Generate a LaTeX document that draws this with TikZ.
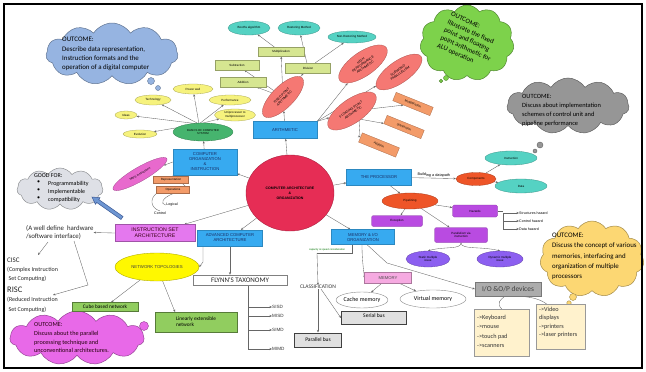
\documentclass[tikz,border=0pt]{standalone}
\usepackage{fontspec}
\setmainfont{Liberation Sans}
\newfontfamily\calfont{Carlito}
\usetikzlibrary{shapes.geometric,shapes.symbols,arrows.meta,calc}
\pgfdeclarelayer{edges}
\pgfdeclarelayer{bg}
\pgfsetlayers{bg,edges,main}
\definecolor{boxblue}{RGB}{55,170,240}
\definecolor{navy}{RGB}{25,45,100}
\definecolor{cred}{RGB}{230,45,85}
\definecolor{salmon}{RGB}{245,120,115}
\definecolor{orng}{RGB}{243,155,105}
\definecolor{lgreen}{RGB}{214,230,145}
\definecolor{mteal}{RGB}{85,210,195}
\definecolor{yel}{RGB}{246,242,125}
\definecolor{bgreen}{RGB}{70,180,110}
\definecolor{pinkm}{RGB}{232,105,205}
\definecolor{purp}{RGB}{185,75,225}
\definecolor{viol}{RGB}{140,95,240}
\definecolor{redo}{RGB}{238,85,40}
\definecolor{mpink}{RGB}{246,170,225}
\definecolor{isapink}{RGB}{228,120,238}
\definecolor{nyel}{RGB}{255,248,0}
\definecolor{ngreen}{RGB}{145,205,95}
\definecolor{cream}{RGB}{255,242,205}
\definecolor{iogray}{RGB}{172,172,172}
\definecolor{cblue}{RGB}{150,180,225}
\definecolor{cgreen}{RGB}{125,210,75}
\definecolor{cgray}{RGB}{150,150,150}
\definecolor{corange}{RGB}{252,215,115}
\definecolor{cpink}{RGB}{232,105,232}
\definecolor{cgood}{RGB}{222,224,230}
\definecolor{arrblue}{RGB}{110,150,210}
\definecolor{arrdark}{RGB}{60,90,150}
\tikzset{
  conn/.style={draw=black!60, line width=0.35pt, -{Stealth[length=2.5pt,width=2pt]}},
  plain/.style={draw=black!60, line width=0.35pt},
  tiny/.style={font=\fontsize{3}{3.6}\selectfont},
  bluebox/.style={rectangle, fill=boxblue, draw=boxblue!80!black, line width=0.3pt, text=navy,
     font=\fontsize{4.2}{5}\selectfont, align=center, inner sep=0pt},
  yell/.style={ellipse, fill=yel, draw=yel!70!black, line width=0.3pt, inner sep=0pt, tiny, align=center},
  grbox/.style={rectangle, fill=lgreen, draw=lgreen!70!black, line width=0.3pt, inner sep=0pt, tiny},
  tealell/.style={ellipse, fill=mteal, draw=mteal!70!black, line width=0.3pt, inner sep=0pt, tiny},
  salell/.style={ellipse, fill=salmon, draw=salmon!70!black, line width=0.3pt, inner sep=0pt,
     font=\fontsize{3.3}{3.9}\selectfont, align=center},
  orbox/.style={rectangle, fill=orng, draw=orng!70!black, line width=0.3pt, inner sep=0pt, tiny},
  redell/.style={ellipse, fill=redo, draw=redo!70!black, line width=0.3pt, inner sep=0pt, tiny},
  purbox/.style={rectangle, rounded corners=1.5pt, fill=purp, draw=purp!70!black, line width=0.3pt,
     inner sep=0pt, tiny, align=center},
  violell/.style={ellipse, fill=viol, draw=viol!70!black, line width=0.3pt, inner sep=0pt, tiny, align=center},
  whell/.style={ellipse, fill=white, draw=black!45, line width=0.4pt, inner sep=0pt,
     font=\calfont\fontsize{6}{7}\selectfont},
  busbox/.style={rectangle, fill=black!12, draw=black!75, line width=1pt, inner sep=0pt,
     font=\calfont\fontsize{5.5}{6}\selectfont},
  ngbox/.style={rectangle, fill=ngreen, draw=ngreen!60!black, line width=0.4pt, inner sep=0pt,
     font=\calfont\fontsize{5.3}{6}\selectfont},
  creambox/.style={rectangle, fill=cream, draw=black!40, line width=0.4pt, inner sep=0pt},
  cloudy/.style={cloud, cloud puffs=11, cloud puff arc=115, draw=#1!65!black, fill=#1, line width=0.5pt, inner sep=0pt},
  otext/.style={align=left, inner sep=0pt, anchor=north west},
  bubble/.style={circle, draw=#1!65!black, fill=#1, line width=0.4pt, inner sep=0pt}
}
\begin{document}
\begin{tikzpicture}[x=1pt,y=-1pt]
\useasboundingbox (0,0) rectangle (646,372);
\begin{pgfonlayer}{bg}
\fill[white] (0,0) rectangle (646,372);
\end{pgfonlayer}

% ---------- outcome clouds ----------
\node[cloudy=cblue, minimum width=132pt, minimum height=62pt] (c1) at (112,54) {};
\node[bubble=cblue, minimum size=7pt] (c1a) at (151,81) {};
\node[bubble=cblue, minimum size=5pt] (c1b) at (158,88) {};
\node[otext, font=\calfont\fontsize{6.9}{9.4}\selectfont] (c1t) at (62,37)
  {OUTCOME:\\Describe data representation,\\Instruction formats and the\\operation of a digital computer};

\node[cloudy=cgreen, minimum width=94pt, minimum height=76pt] (c2) at (467,43) {};
\node[bubble=cgreen, minimum size=5pt] (c2a) at (446,78) {};
\node[bubble=cgreen, minimum size=3.5pt] (c2b) at (441,81) {};
\node[align=left, inner sep=0pt, rotate=-24, font=\calfont\fontsize{6.8}{8.6}\selectfont] (c2t) at (469,41)
  {OUTCOME:\\Illustrate the fixed\\point and floating\\point arithmetic for\\ALU operation};

\node[cloudy=cgray, minimum width=122pt, minimum height=56pt] (c3) at (568,106) {};
\node[bubble=cgray, minimum size=6pt] (c3a) at (540,145) {};
\node[bubble=cgray, minimum size=4pt] (c3b) at (535,151) {};
\node[otext, font=\calfont\fontsize{6.4}{9}\selectfont] (c3t) at (522,94)
  {OUTCOME:\\Discuss about implementation\\schemes of control unit and\\pipeline performance};

\node[cloudy=corange, minimum width=104pt, minimum height=76pt] (c4) at (592,259) {};
\node[bubble=corange, minimum size=7pt] (c4a) at (573,297) {};
\node[bubble=corange, minimum size=4.5pt] (c4b) at (569,303) {};
\node[otext, font=\calfont\fontsize{6.9}{10.2}\selectfont] (c4t) at (552,233)
  {OUTCOME:\\Discuss the concept of various\\memories, interfacing and\\organization of multiple\\processors};

\node[cloudy=cpink, minimum width=134pt, minimum height=54pt] (c5) at (77,338) {};
\node[bubble=cpink, minimum size=9pt] (c5a) at (144,326) {};
\node[otext, text=black!80!purple, font=\calfont\fontsize{6.2}{8.9}\selectfont] (c5t) at (34,322)
  {OUTCOME:\\Discuss about the parallel\\processing technique and\\unconventional architectures.};

\node[cloudy=cgood, minimum width=86pt, minimum height=42pt] (good) at (60,189) {};
\node[otext, font=\calfont\fontsize{6}{7.6}\selectfont] (goodt) at (34,173) {GOOD FOR:};
\node[otext, font=\calfont\fontsize{6}{7.9}\selectfont] (goodb) at (37,181) {\textbullet\\\textbullet\\\textbullet};
\node[otext, font=\calfont\fontsize{6}{7.9}\selectfont] (goodi) at (48,181) {Programmability\\Implementable\\compatibility};

% ---------- centre ----------
\node[ellipse, fill=cred, draw=cred!75!black, line width=0.4pt, minimum width=88pt, minimum height=76pt,
  inner sep=0pt, align=center, font=\bfseries\fontsize{3.5}{5}\selectfont] (cao) at (290,193)
  {COMPUTER ARCHITECTURE\\\&\\ORGANIZATION};

% ---------- main branches ----------
\node[bluebox, minimum width=64pt, minimum height=17pt] (arith) at (285,130) {ARITHMETIC};
\node[bluebox, minimum width=64pt, minimum height=26pt] (corg) at (205,162) {COMPUTER\\ORGANIZATION\\\&\\INSTRUCTION};
\node[bluebox, minimum width=65pt, minimum height=16pt] (proc) at (379,177) {THE PROCESSOR};
\node[bluebox, minimum width=63pt, minimum height=15pt] (memio) at (363,237) {MEMORY \& I/O\\ORGANIZATION};
\node[bluebox, minimum width=65pt, minimum height=16pt] (adv) at (230,238) {ADVANCED COMPUTER\\ARCHITECTURE};
\node[rectangle, fill=isapink, draw=isapink!70!black, line width=0.4pt, minimum width=80pt, minimum height=17pt,
  inner sep=0pt, align=center, text=black!70!purple, font=\fontsize{5.2}{6}\selectfont] (isa) at (155,233)
  {INSTRUCTION SET\\ARCHITECTURE};

% ---------- basics ----------
\node[ellipse, fill=bgreen, draw=bgreen!70!black, line width=0.3pt, minimum width=60pt, minimum height=18pt,
  inner sep=0pt, align=center, font=\fontsize{2.8}{3.3}\selectfont] (basics) at (203,132) {BASICS OF COMPUTER\\SYSTEM};
\node[yell, minimum width=40pt, minimum height=10pt] (pw) at (193,89) {Power wall};
\node[yell, minimum width=36pt, minimum height=10pt] (tech) at (153,100) {Technology};
\node[yell, minimum width=42pt, minimum height=10pt] (perf) at (230,100) {Performance};
\node[yell, minimum width=41pt, minimum height=12pt] (uni) at (235,115) {Uniprocessor to\\multiprocessor};
\node[yell, minimum width=22pt, minimum height=8pt] (ideas) at (126,115) {Ideas};
\node[yell, minimum width=34pt, minimum height=8pt] (evol) at (140,134) {Evolution};
\coordinate (bsrc) at (199,124);

% ---------- computer organisation children ----------
\node[ellipse, rotate=30, fill=pinkm, draw=pinkm!70!black, line width=0.3pt, minimum width=62pt, minimum height=14pt,
  inner sep=0pt, font=\fontsize{3}{3.6}\selectfont] (mips) at (140,174) {MIPS instructions};
\node[orbox, minimum width=35pt, minimum height=7pt] (repr) at (171,180) {Representation};
\node[orbox, minimum width=33pt, minimum height=7pt] (oper) at (173,190) {Operations};
\node[font=\fontsize{3.6}{4}\selectfont, inner sep=0.5pt] (logic) at (172,205) {Logical};
\node[font=\fontsize{3.6}{4}\selectfont, inner sep=0.5pt] (ctrl) at (160,213) {Control};

% ---------- arithmetic ----------
\node[salell, rotate=45, minimum width=54pt, minimum height=22pt] (fixed) at (283,97) {FIXED POINT\\ARITHMETIC};
\node[grbox, minimum width=46pt, minimum height=10pt] (add1) at (243,82) {Addition};
\node[grbox, minimum width=44pt, minimum height=10pt] (sub1) at (237,65) {Subtraction};
\node[grbox, minimum width=46pt, minimum height=9pt] (mul1) at (281,52) {Multiplication};
\node[grbox, minimum width=45pt, minimum height=10pt] (div1) at (308,68) {Division};
\node[tealell, minimum width=42pt, minimum height=14pt] (booth) at (249,28) {Booths algorithm};
\node[tealell, minimum width=42pt, minimum height=14pt] (rest) at (299,28) {Restoring Method};
\node[tealell, minimum width=48pt, minimum height=12pt] (nonrest) at (352,37) {Non-Restoring Method};
\node[salell, rotate=35, minimum width=57pt, minimum height=24pt] (hpa) at (363,64) {HIGH\\PERFORMANCE\\ARITHMETIC};
\node[salell, rotate=35, minimum width=54pt, minimum height=22pt] (subw) at (399,72) {SUBWORD\\PARALLELISM};
\node[salell, rotate=35, minimum width=57pt, minimum height=24pt] (fpa) at (352,111) {FLOATING POINT\\ARITHMETIC};
\node[orbox, rotate=-22, minimum width=40pt, minimum height=9pt] (mul2) at (413,104) {Multiplication};
\node[orbox, rotate=-22, minimum width=40pt, minimum height=9pt] (sub2) at (404,127) {Subtraction};
\node[orbox, rotate=-22, minimum width=40pt, minimum height=10pt] (add2) at (379,145) {Addition};
\coordinate (fbr) at (359,119);

% ---------- processor ----------
\node[redell, minimum width=40pt, minimum height=13pt] (comp) at (476,179) {Components};
\node[tealell, minimum width=52pt, minimum height=14pt] (instr) at (511,158) {Instruction};
\node[tealell, minimum width=52pt, minimum height=14pt] (data) at (521,186) {Data};
\node[redell, minimum width=56pt, minimum height=16pt] (pipe) at (410,201) {Pipelining};
\node[purbox, minimum width=51pt, minimum height=11pt] (exc) at (397,221) {Exception};
\node[purbox, minimum width=45pt, minimum height=12pt] (haz) at (475,211) {Hazards};
\node[purbox, minimum width=53pt, minimum height=15pt] (par) at (461,235) {Parallelism via\\instruction};
\node[violell, minimum width=44pt, minimum height=16pt] (stat) at (428,259) {Static multiple\\issue};
\node[violell, minimum width=46pt, minimum height=16pt] (dyn) at (500,259) {Dynamic multiple\\issue};
\coordinate (hz) at (503,211);
\node[anchor=west, inner sep=0pt, font=\fontsize{3.6}{4}\selectfont] (hz1) at (519,213) {Structures hazard};
\node[anchor=west, inner sep=0pt, font=\fontsize{3.6}{4}\selectfont] (hz2) at (519,221) {Control hazard};
\node[anchor=west, inner sep=0pt, font=\fontsize{3.6}{4}\selectfont] (hz3) at (519,229) {Data hazard};

% ---------- memory ----------
\node[rectangle, fill=mpink, draw=mpink!70!black, line width=0.3pt, minimum width=47pt, minimum height=11pt,
  inner sep=0pt, font=\fontsize{4.2}{5}\selectfont, text=black!70] (mem) at (388,278) {MEMORY};
\node[whell, minimum width=50pt, minimum height=16pt] (cache) at (362,300) {Cache memory};
\node[whell, minimum width=66pt, minimum height=18pt] (virt) at (433,299) {Virtual memory};
\node[inner sep=0pt, font=\calfont\fontsize{5.5}{6}\selectfont, text=black!80] (classif) at (318,287) {CLASSIFICATION};
\node[busbox, minimum width=65pt, minimum height=13pt, text depth=5pt] (serial) at (374,318) {Serial bus};
\node[busbox, minimum width=47pt, minimum height=14pt] (parbus) at (318,340) {Parallel bus};
\coordinate (mb) at (352,253);
\node[inner sep=0pt, text=green!45!black, font=\fontsize{2.6}{3}\selectfont] (capl) at (327,250) {capacity \& speed consideration};
\node[rectangle, fill=iogray, draw=iogray!70!black, line width=0.3pt, minimum width=66pt, minimum height=14pt,
  inner sep=0pt, text=black!75, font=\calfont\fontsize{7.4}{8}\selectfont] (io) at (508,289) {I/O \&O/P devices};
\node[creambox, minimum width=55pt, minimum height=47pt] (inb) at (502,333) {};
\node[otext, text=black!80, font=\calfont\fontsize{6.2}{9.3}\selectfont] (inbt) at (477,315) {->Keyboard\\->mouse\\->touch pad\\->scanners};
\node[creambox, minimum width=49pt, minimum height=45pt] (outb) at (561,327) {};
\node[otext, text=black!80, font=\calfont\fontsize{6.2}{8.3}\selectfont] (outbt) at (539,307) {->Video\\displays\\->printers\\->laser printers};

% ---------- ISA side ----------
\node[anchor=west, align=left, inner sep=0pt, font=\calfont\fontsize{6.8}{8.8}\selectfont, text=black!85] (hw) at (26,232.5)
  {(A well define \ hardware\\/software interface)};
\node[anchor=north west, align=left, inner sep=0pt, font=\calfont\fontsize{6}{9}\selectfont, text=black!85] (cisc) at (7,258)
  {{\fontsize{7}{8}\selectfont CISC}\\(Complex Instruction\\\ Set Computing)};
\node[anchor=north west, align=left, inner sep=0pt, font=\calfont\fontsize{6}{9.2}\selectfont, text=black!85] (risc) at (7,287)
  {{\fontsize{8.5}{9}\selectfont RISC}\\(Reduced Instruction\\\ Set Computing)};
\coordinate (rk) at (88,285);

% block arrow from ISA to GOOD FOR
\fill[arrblue, draw=arrdark, line width=0.5pt] (123.03,216.52) -- (98.77,199.54) -- (100.04,197.74) -- (92,197)
  -- (95.44,204.30) -- (96.71,202.50) -- (120.97,219.48) -- cycle;

% ---------- advanced ----------
\node[ellipse, fill=nyel, draw=nyel!70!black, line width=0.4pt, minimum width=84pt, minimum height=28pt,
  inner sep=0pt, text=black!75, font=\fontsize{4.3}{5}\selectfont] (net) at (157,267) {NETWORK TOPOLOGIES};
\node[rectangle, fill=white, draw=black!50, line width=0.5pt, minimum width=94pt, minimum height=10pt,
  inner sep=0pt, font=\calfont\fontsize{7}{8}\selectfont, text=black!85] (flynn) at (240,280) {FLYNN'S TAXONOMY};
\foreach \n/\y in {SISD/307,MISD/316,SIMD/330,MIMD/349}{
  \node[anchor=west, inner sep=0pt, font=\fontsize{4.6}{5}\selectfont, text=black!80] (\n) at (272,\y) {\n};
}
\node[ngbox, minimum width=66pt, minimum height=9pt] (cube) at (105,307) {Cube based network};
\node[ngbox, minimum width=82pt, minimum height=20pt, align=left] (lin) at (196,322) {Linearly extensible\hspace{18pt}\\network\hspace{44pt}};

% ================= connectors (behind the shapes) =================
\begin{pgfonlayer}{edges}
\draw[conn] (cao) -- (arith);
\draw[conn] (cao) -- (corg);
\draw[conn] (cao) -- (proc);
\draw[conn] (cao) -- (memio);
\draw[conn] (cao) -- (adv);
\draw[conn] (cao) -- (isa);
\draw[conn] (corg) -- (basics);
\foreach \t in {pw,tech,perf,uni,ideas,evol} \draw[conn] (bsrc) -- (\t);
\draw[conn] (corg.west) -- (mips);
\draw[conn] (corg.south west) -- (repr.north east);
\draw[conn] (corg.south west) -- (oper.east);
\draw[plain] (oper.south) .. controls (162,198) and (160,204) .. (logic.west);
\draw[plain] (oper.south west) .. controls (150,198) and (150,208) .. (ctrl.north);
\draw[conn] (arith) -- (fixed);
\draw[conn] (fixed) -- (add1);
\draw[conn] (fixed) -- (sub1);
\draw[conn] (fixed) -- (mul1);
\draw[conn] (fixed) -- (div1);
\draw[conn] (mul1) -- (booth);
\draw[conn] (div1) -- (rest);
\draw[conn] (div1) -- (nonrest);
\draw[conn] (arith.north east) -- (hpa);
\draw[conn] (arith.north east) -- (subw);
\draw[conn] (arith.north east) -- (fpa);
\draw[conn] (fpa) -- (mul2);
\draw[plain] (fpa) -- (fbr);
\draw[conn] (fbr) -- (sub2);
\draw[conn] (fbr) -- (360,137) -- (add2);
\draw[conn] (proc) -- node[above, sloped, inner sep=1pt, font=\fontsize{3.8}{4}\selectfont] (bdp) {Building a datapath} (comp);
\draw[conn] (comp) -- (instr);
\draw[conn] (comp) -- (data);
\draw[conn] (proc) -- (pipe);
\draw[conn] (pipe) -- (exc);
\draw[conn] (pipe) -- (haz);
\draw[conn] (pipe) -- (par);
\draw[conn] (par.south) .. controls (461,250) and (445,246) .. (stat.north);
\draw[conn] (par.south) .. controls (461,250) and (480,246) .. (dyn.north);
\draw[plain] (haz.east) -- (hz);
\draw[plain] (503,213) -- (503,229);
\draw[conn] (503,213) -- (hz1.west);
\draw[conn] (503,221) -- (hz2.west);
\draw[conn] (503,229) -- (hz3.west);
\draw[conn] ([xshift=-1pt]memio.south) .. controls (362,262) and (364,272) .. (mem.west);
\draw[conn] (mem) -- (cache);
\draw[conn] (mem) -- (virt);
\draw[conn] (classif.south) -- (parbus.north);
\draw[conn] ([xshift=3pt]classif.south) -- (serial.west);
\draw[plain] ([xshift=-11pt]memio.south) -- (mb) -- (317,253);
\draw[conn] (317,253) -- (classif.north);
\draw[conn] ([xshift=4pt]memio.south) -- (387,263) -- (io.west);
\draw[plain] ([xshift=-3pt]io.south) .. controls (500,300) and (496,303) .. (inb.north);
\draw[plain] ([xshift=10pt]io.south) .. controls (532,297) and (540,299) .. ([xshift=-14pt]outb.north);
\draw[conn] (isa.west) -- (hw.east);
\draw[conn] (48,242) -- (38,255);
\draw[plain] (74,241) -- (rk);
\draw[conn] (rk) -- (53,295);
\draw[conn] ([xshift=-27pt]adv.south) -- (203,262) -- (net.east);
\draw[conn] (adv.south) -- (flynn.north -| adv.south);
\draw[plain] (248,285) -- (248,350);
\foreach \n/\y in {SISD/307,MISD/316,SIMD/330,MIMD/349} \draw[conn] (248,\y) -- (\n.west);
\draw[conn] (net) -- (cube);
\draw[conn] (net) -- (175,312);
\end{pgfonlayer}

% ---------- frame ----------
\draw[line width=2.4pt, black] (4,4) rectangle (642,368);
\end{tikzpicture}
\end{document}
